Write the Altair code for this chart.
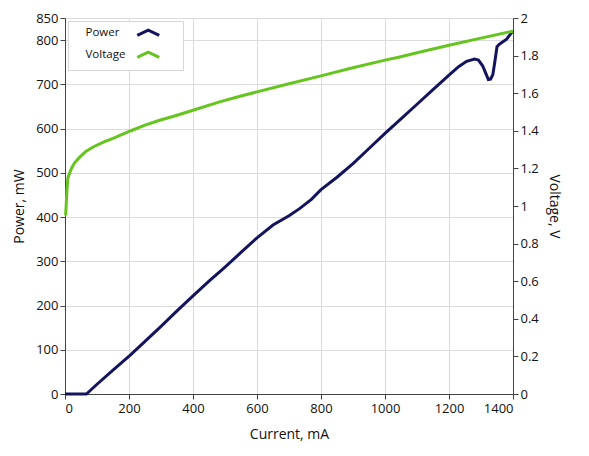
import altair as alt
import pandas as pd

# ---- data ----
current_p = [0, 30, 60, 67, 100, 150, 204, 250, 300, 350, 400, 450, 500, 550, 600,
             650, 700, 733, 770, 800, 850, 900, 950, 1000, 1050, 1100, 1150, 1200,
             1230, 1255, 1280, 1292, 1305, 1315, 1323, 1330, 1337, 1343, 1350, 1356,
             1364, 1380, 1400]
power_mw = [0, 0, 0, 0, 22, 54, 88, 119, 153, 188, 222, 255, 287, 320, 353,
            382, 403, 419, 440, 462, 490, 521, 555, 589, 622, 655, 688, 721,
            740, 752, 757, 755, 742, 725, 711, 712, 722, 750, 785, 790,
            794, 802, 821]

current_v = [2, 6, 9, 20, 30, 46, 65, 88, 120, 150, 204, 250, 296, 350, 400, 483,
             550, 600, 700, 800, 890, 1000, 1046, 1100, 1200, 1300, 1400]
voltage_v = [0.95, 1.08, 1.15, 1.2, 1.23, 1.26, 1.29, 1.314, 1.34, 1.36, 1.399, 1.43,
             1.456, 1.483, 1.509, 1.554, 1.585, 1.607, 1.65, 1.692, 1.731, 1.776,
             1.793, 1.815, 1.855, 1.893, 1.93]

series_names = ["Power", "Voltage"]
series_colors = ["#14145e", "#66c41e"]

x_ticks = [0, 200, 400, 600, 800, 1000, 1200, 1400]
p_ticks = [0, 100, 200, 300, 400, 500, 600, 700, 800, 850]
v_ticks = [0, 0.2, 0.4, 0.6, 0.8, 1.0, 1.2, 1.4, 1.6, 1.8, 2.0]

df_p = pd.DataFrame({"Current": current_p, "Value": power_mw, "Series": series_names[0]})
df_v = pd.DataFrame({"Current": current_v, "Value": voltage_v, "Series": series_names[1]})

FONT = "Open Sans"
# chevron glyph drawn to the right of the label (legend symbol shape), plus an
# invisible zero-length point that widens the legend box
chevron = "M28.75,1.33L34.25,-1.33L39.75,1.33M45.5,0L45.5,0"

color = alt.Color(
    "Series:N",
    scale=alt.Scale(domain=series_names, range=series_colors),
    legend=alt.Legend(
        title=None,
        orient="top-left",
        offset=3,
        padding=6,
        rowPadding=4,
        symbolType=chevron,
        symbolSize=16,
        symbolStrokeWidth=3,
        symbolFillColor="transparent",
        labelFont=FONT,
        labelFontSize=11.5,
        labelColor="#111111",
        labelAlign="left",
        labelOffset=0,
        fillColor="white",
        strokeColor="#d6d6d6",
    ),
)

x = alt.X(
    "Current:Q",
    scale=alt.Scale(domain=[0, 1400], nice=False),
    axis=alt.Axis(values=x_ticks, format="d", title="Current, mA",
                  titlePadding=12, labelPadding=3),
)

power_line = alt.Chart(df_p).mark_line(strokeWidth=3).encode(
    x=x,
    y=alt.Y(
        "Value:Q",
        scale=alt.Scale(domain=[0, 850], nice=False),
        axis=alt.Axis(values=p_ticks, title="Power, mW", titlePadding=9),
    ),
    color=color,
)

voltage_line = alt.Chart(df_v).mark_line(strokeWidth=3).encode(
    x=x,
    y=alt.Y(
        "Value:Q",
        scale=alt.Scale(domain=[0, 2], nice=False),
        axis=alt.Axis(values=v_ticks, orient="right", grid=False, format="~g",
                      title="Voltage, V", titleAngle=90, titlePadding=8),
    ),
    color=color,
)

chart = (
    alt.layer(power_line, voltage_line)
    .resolve_scale(y="independent")
    .properties(
        width=448,
        height=376,
        autosize=alt.AutoSizeParams(type="none"),
        padding={"left": 57, "top": 10, "right": 68, "bottom": 54},
    )
    .configure_view(stroke="#444444", strokeWidth=1)
    .configure_axis(
        domainColor="#444444",
        tickColor="#444444",
        gridColor="#dcdcdc",
        gridWidth=1,
        tickSize=5,
        labelPadding=2,
        labelFont=FONT,
        labelFontSize=13,
        labelColor="#111111",
        titleFont=FONT,
        titleFontSize=14,
        titleFontWeight="normal",
        titleColor="#111111",
    )
)

chart.save("out.html", embed_options={"renderer": "svg", "actions": False})
